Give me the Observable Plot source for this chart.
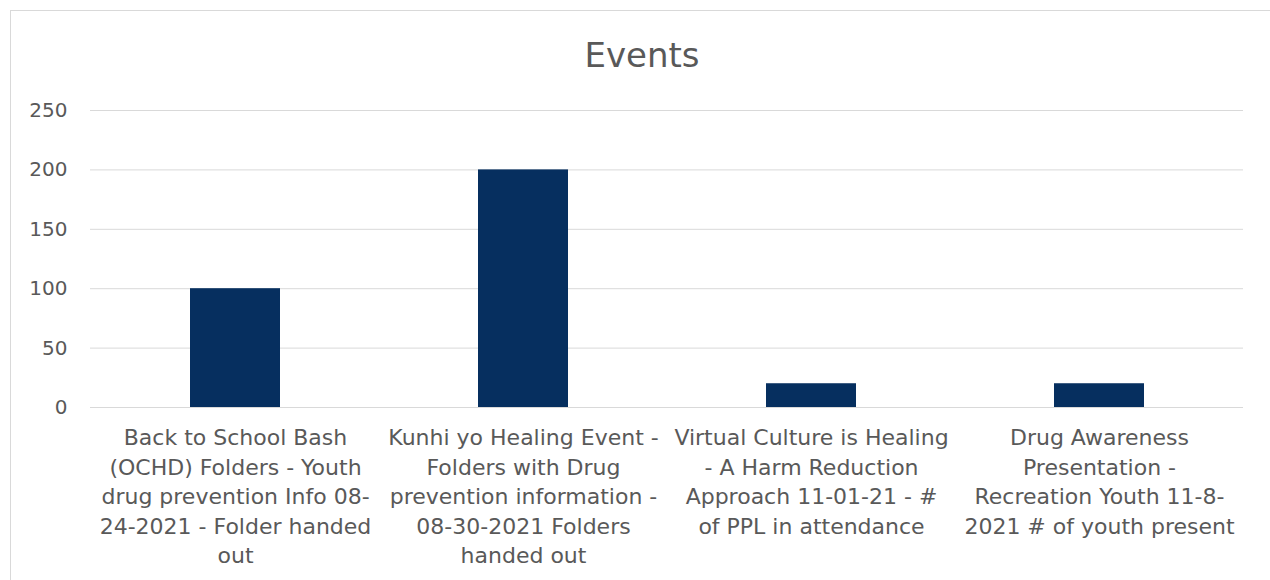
<!DOCTYPE html>
<html>
<head>
<meta charset="utf-8">
<script src="https://cdn.jsdelivr.net/npm/d3@7"></script>
<script src="https://cdn.jsdelivr.net/npm/@observablehq/plot@0.6"></script>
<style>
  html, body { margin: 0; padding: 0; background: #fff; width: 1270px; height: 580px; overflow: hidden; }
  #frame { position: absolute; left: 10px; top: 10px; width: 1300px; height: 700px; border: 1px solid #d9d9d9; box-sizing: border-box; }
  #title { position: absolute; left: 0; top: 33px; width: 1284px; text-align: center; font-family: "DejaVu Sans", sans-serif; font-size: 34px; color: #595959; line-height: 44px; }
  #chart { position: absolute; left: 0; top: 90px; }
</style>
</head>
<body>
<div id="frame"></div>
<div id="title">Events</div>
<div id="chart"></div>
<script>
const categories = [
  "Back to School Bash (OCHD) Folders - Youth drug prevention Info 08-24-2021 - Folder handed out",
  "Kunhi yo Healing Event - Folders with Drug prevention information - 08-30-2021 Folders handed out",
  "Virtual Culture is Healing - A Harm Reduction Approach 11-01-21 - # of PPL in attendance",
  "Drug Awareness Presentation - Recreation Youth 11-8-2021 # of youth present"
];
const values = [100, 200, 20, 20];
const tickLabels = [
  "Back to School Bash\n(OCHD) Folders - Youth\ndrug prevention Info 08-\n24-2021 - Folder handed\nout",
  "Kunhi yo Healing Event -\nFolders with Drug\nprevention information -\n08-30-2021 Folders\nhanded out",
  "Virtual Culture is Healing\n- A Harm Reduction\nApproach 11-01-21 - #\nof PPL in attendance",
  "Drug Awareness\nPresentation -\nRecreation Youth 11-8-\n2021 # of youth present"
];
const yTicks = [0, 50, 100, 150, 200, 250];

const data = categories.map((c, i) => ({category: c, value: values[i]}));
const labelOf = new Map(categories.map((c, i) => [c, tickLabels[i]]));

const chart = Plot.plot({
  width: 1270,
  height: 490,
  marginTop: 20,
  marginBottom: 173,
  marginLeft: 90,
  marginRight: 27,
  style: {fontFamily: "DejaVu Sans, sans-serif", color: "#595959", background: "transparent"},
  x: {domain: categories, paddingInner: 0.6875, paddingOuter: 0.34375},
  y: {domain: [0, 250]},
  marks: [
    Plot.gridY(yTicks, {stroke: "#d9d9d9", strokeOpacity: 1, strokeWidth: 1}),
    Plot.barY(data, {x: "category", y: "value", fill: "#062f5f"}),
    Plot.axisY(yTicks, {tickSize: 0, tickPadding: 23, fontSize: 20, fill: "#595959", label: null}),
    Plot.axisX({tickSize: 0, tickPadding: 17, fontSize: 22, lineHeight: 1.34, fill: "#595959", label: null, tickFormat: d => labelOf.get(d)})
  ]
});
document.getElementById("chart").appendChild(chart);
</script>
</body>
</html>
